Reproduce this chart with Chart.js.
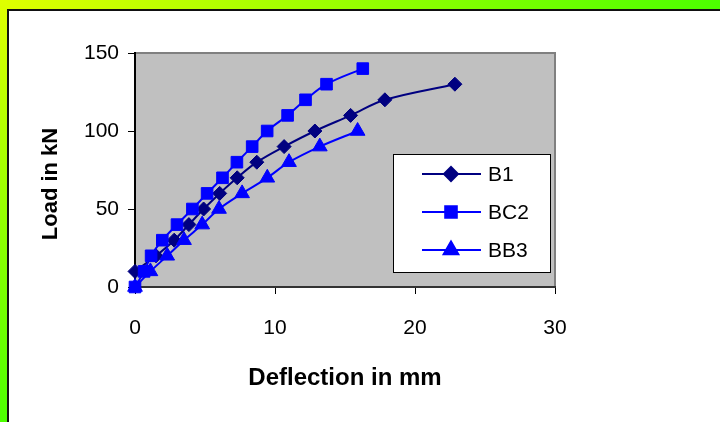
<!DOCTYPE html>
<html><head><meta charset="utf-8">
<script src="https://cdn.jsdelivr.net/npm/chart.js@4"></script>
<style>
html,body{margin:0;padding:0;background:#fff;}
#wrap{position:relative;width:720px;height:422px;overflow:hidden;background:#fff;}
#topband{position:absolute;left:0;top:0;width:720px;height:9px;background:linear-gradient(to right,#DFFF00,#4CFF00);}
#leftband{position:absolute;left:0;top:0;width:7px;height:422px;background:linear-gradient(to bottom,#DFFF00,#4CFF00);}
#inner{position:absolute;left:7px;top:9px;right:0;bottom:0;border-top:2px solid #111;border-left:2px solid #111;background:#fff;}
#c{position:absolute;left:0;top:0;}
</style></head>
<body>
<div id="wrap">
  <div id="topband"></div><div id="leftband"></div><div id="inner"></div>
  <canvas id="c" width="720" height="422"></canvas>
</div>
<script>
// ---- data ----
const seriesNames = ['B1', 'BC2', 'BB3'];
const deflB1  = [0, 1.5, 2.8, 3.85, 4.9, 6.05, 7.3, 8.7, 10.65, 12.85, 15.4, 17.85, 22.85];
const loadB1  = [10, 20, 30, 40, 50, 60, 70, 80, 90, 100, 110, 120, 130];
const deflBC2 = [0, 0.65, 1.15, 1.95, 3.0, 4.1, 5.15, 6.25, 7.28, 8.37, 9.44, 10.9, 12.18, 13.68, 16.27];
const loadBC2 = [0, 10, 20, 30, 40, 50, 60, 70, 80, 90, 100, 110, 120, 130, 140];
const deflBB3 = [0, 1.1, 2.3, 3.5, 4.8, 6.0, 7.65, 9.45, 11.0, 13.2, 15.9];
const loadBB3 = [0, 10, 20, 30, 40, 50, 60, 70, 80, 90, 100];
const xTicks = [0, 10, 20, 30];
const yTicks = [0, 50, 100, 150];
const xTitle = 'Deflection in mm';
const yTitle = 'Load in kN';

const FONT = '"Liberation Sans", Arial, sans-serif';
Chart.defaults.font.family = FONT;
Chart.defaults.font.size = 21;
Chart.defaults.color = '#000';

const toPts = (xs, ys) => xs.map((x, i) => ({x: x, y: ys[i]}));

const plotBg = {
  id: 'plotBg',
  beforeDraw(chart) {
    const {ctx, chartArea: a} = chart;
    ctx.save();
    ctx.fillStyle = '#C0C0C0';
    ctx.fillRect(a.left, a.top, a.right - a.left, a.bottom - a.top);
    ctx.strokeStyle = '#808080';
    ctx.lineWidth = 2;
    ctx.strokeRect(a.left, a.top, a.right - a.left, a.bottom - a.top);
    ctx.restore();
  }
};

const titles = {
  id: 'titles',
  afterDraw(chart) {
    const ctx = chart.ctx;
    ctx.save();
    ctx.fillStyle = '#000';
    ctx.textAlign = 'center';
    ctx.textBaseline = 'middle';
    ctx.font = 'bold 24px ' + FONT;
    ctx.fillText(xTitle, 345, 378);
    ctx.font = 'bold 22px ' + FONT;
    ctx.translate(51, 184);
    ctx.rotate(-Math.PI / 2);
    ctx.fillText(yTitle, 0, 0);
    ctx.restore();
  }
};

const boxLegend = {
  id: 'boxLegend',
  afterDraw(chart) {
    const ctx = chart.ctx;
    const bx = 393.5, by = 154.5, bw = 157, bh = 118;
    ctx.save();
    ctx.fillStyle = '#fff';
    ctx.fillRect(bx, by, bw, bh);
    ctx.strokeStyle = '#000';
    ctx.lineWidth = 1;
    ctx.strokeRect(bx, by, bw, bh);
    const rows = [174, 212, 250];
    chart.data.datasets.forEach((ds, i) => {
      const y = rows[i];
      ctx.strokeStyle = ds.borderColor;
      ctx.lineWidth = 2;
      ctx.beginPath();
      ctx.moveTo(422, y);
      ctx.lineTo(481, y);
      ctx.stroke();
      Chart.helpers.drawPoint(ctx, {pointStyle: ds.pointStyle, radius: ds.pointRadius, borderWidth: 1, rotation: 0}, 451, y);
      ctx.fillStyle = ds.backgroundColor;
      ctx.strokeStyle = ds.borderColor;
      ctx.fill();
      ctx.fillStyle = '#000';
      ctx.font = '21px ' + FONT;
      ctx.textAlign = 'left';
      ctx.textBaseline = 'middle';
      ctx.fillText(ds.label, 488, y + 1);
    });
    ctx.restore();
  }
};

const common = {showLine: true, borderWidth: 2, tension: 0.35, clip: false, pointBorderWidth: 1};

new Chart(document.getElementById('c'), {
  type: 'scatter',
  data: {
    datasets: [
      Object.assign({label: seriesNames[0], data: toPts(deflB1, loadB1), borderColor: '#000080', backgroundColor: '#000080',
        pointStyle: 'rectRot', pointRadius: 7, order: 3}, common),
      Object.assign({label: seriesNames[1], data: toPts(deflBC2, loadBC2), borderColor: '#0000FF', backgroundColor: '#0000FF',
        pointStyle: 'rect', pointRadius: 8.2, order: 2}, common),
      Object.assign({label: seriesNames[2], data: toPts(deflBB3, loadBB3), borderColor: '#0000FF', backgroundColor: '#0000FF',
        pointStyle: 'triangle', pointRadius: 8.5, order: 1}, common)
    ]
  },
  options: {
    responsive: false,
    animation: false,
    devicePixelRatio: 1,
    layout: {padding: {left: 0, right: 165, top: 53, bottom: 0}},
    plugins: {legend: {display: false}, tooltip: {enabled: false}},
    scales: {
      x: {
        type: 'linear', min: 0, max: 30,
        afterBuildTicks(s) { s.ticks = xTicks.map(v => ({value: v})); },
        ticks: {padding: 22, font: {size: 21}},
        grid: {drawOnChartArea: false, tickLength: 7, tickColor: '#000', tickWidth: 1},
        border: {color: '#333', width: 2},
        afterFit(s) { s.height = 422 - 287; }
      },
      y: {
        type: 'linear', min: 0, max: 150,
        afterBuildTicks(s) { s.ticks = yTicks.map(v => ({value: v})); },
        ticks: {padding: 9, font: {size: 21}},
        grid: {drawOnChartArea: false, tickLength: 7, tickColor: '#000', tickWidth: 1},
        border: {color: '#000', width: 2},
        afterFit(s) { s.width = 135; }
      }
    }
  },
  plugins: [plotBg, titles, boxLegend]
});
</script>
</body></html>
